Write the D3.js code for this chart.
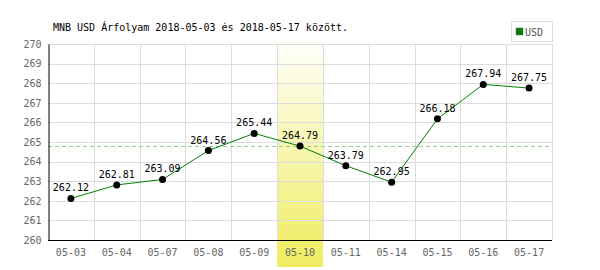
<!DOCTYPE html>
<html>
<head>
<meta charset="utf-8">
<script src="https://cdn.jsdelivr.net/npm/d3@7"></script>
<style>
    body { margin: 0; background: #fff; }
    svg { display: block; }
</style>
</head>
<body>
<div id="chart"></div>
<script>
    // adatok
    var days = ["05-03", "05-04", "05-07", "05-08", "05-09", "05-10", "05-11", "05-14", "05-15", "05-16", "05-17"];
    var rates = [262.12, 262.81, 263.09, 264.56, 265.44, 264.79, 263.79, 262.95, 266.18, 267.94, 267.75];
    var yTicks = [260, 261, 262, 263, 264, 265, 266, 267, 268, 269, 270];
    var avgRate = 264.8;
    var selectedDay = "05-10";
    var title = "MNB USD Árfolyam 2018-05-03 és 2018-05-17 között.";

    var width = 600;
    var height = 270;
    var margin = { top: 44, right: 48, bottom: 30, left: 48 };

    var svg = d3.select("#chart")
        .append("svg")
        .attr("width", width)
        .attr("height", height);

    var x = d3.scaleBand()
        .domain(days)
        .range([margin.left, width - margin.right]);

    var y = d3.scaleLinear()
        .domain([260, 270])
        .range([height - margin.bottom, margin.top]);

    var mono = "'DejaVu Sans Mono', monospace";

    // kiemelt nap
    var grad = svg.append("defs").append("linearGradient")
        .attr("id", "hl")
        .attr("x1", 0).attr("y1", 0).attr("x2", 0).attr("y2", 1);
    grad.append("stop").attr("offset", "0%").attr("stop-color", "#ffffff");
    grad.append("stop").attr("offset", "100%").attr("stop-color", "#efec5e");

    svg.append("rect")
        .attr("x", x(selectedDay))
        .attr("y", 35)
        .attr("width", x.bandwidth())
        .attr("height", 232)
        .attr("fill", "url(#hl)");

    // racsvonalak
    svg.append("g")
        .selectAll("line")
        .data(yTicks)
        .enter()
        .append("line")
        .attr("x1", margin.left)
        .attr("x2", width - margin.right)
        .attr("y1", function (d) { return Math.round(y(d)) + 0.5; })
        .attr("y2", function (d) { return Math.round(y(d)) + 0.5; })
        .style("stroke", "#dcdcdc");

    svg.append("g")
        .selectAll("line")
        .data(days.slice(1).concat(["end"]))
        .enter()
        .append("line")
        .attr("x1", function (d, i) { return Math.round(margin.left + (i + 1) * x.bandwidth()) + 0.5; })
        .attr("x2", function (d, i) { return Math.round(margin.left + (i + 1) * x.bandwidth()) + 0.5; })
        .attr("y1", y(270))
        .attr("y2", y(260))
        .style("stroke", "#dcdcdc");

    // atlag
    svg.append("line")
        .attr("x1", margin.left)
        .attr("x2", width - margin.right)
        .attr("y1", Math.round(y(avgRate)) + 0.5)
        .attr("y2", Math.round(y(avgRate)) + 0.5)
        .style("stroke", "#8fd08f")
        .style("stroke-dasharray", "4,3");

    // tengelyek
    var yAxis = svg.append("g")
        .attr("transform", "translate(" + (margin.left + 0.5) + ",0)")
        .call(d3.axisLeft(y).tickValues(yTicks).tickSize(0).tickPadding(7).tickFormat(d3.format("d")));
    yAxis.select(".domain").style("stroke", "#000");
    yAxis.selectAll("text")
        .style("font-family", mono)
        .style("font-size", "10px")
        .style("fill", "#666");

    var xAxis = svg.append("g")
        .attr("transform", "translate(0," + (y(260) + 0.5) + ")")
        .call(d3.axisBottom(x).tickSize(0).tickPadding(8));
    xAxis.select(".domain").style("stroke", "#000").attr("d", "M" + (margin.left) + ",0H" + (width - margin.right));
    xAxis.selectAll("text")
        .style("font-family", mono)
        .style("font-size", "10px")
        .style("fill", "#666");

    // vonal
    var line = d3.line()
        .x(function (d, i) { return x(days[i]) + x.bandwidth() / 2; })
        .y(function (d) { return y(d); });

    svg.append("path")
        .datum(rates)
        .attr("d", line)
        .attr("fill", "none")
        .style("stroke", "#008000")
        .style("stroke-width", 1);

    svg.append("g")
        .selectAll("circle")
        .data(rates)
        .enter()
        .append("circle")
        .attr("cx", function (d, i) { return x(days[i]) + x.bandwidth() / 2; })
        .attr("cy", function (d) { return y(d); })
        .attr("r", 3.5)
        .style("fill", "#000");

    svg.append("g")
        .selectAll("text")
        .data(rates)
        .enter()
        .append("text")
        .attr("x", function (d, i) { return x(days[i]) + x.bandwidth() / 2; })
        .attr("y", function (d) { return y(d) - 7; })
        .attr("text-anchor", "middle")
        .style("font-family", mono)
        .style("font-size", "10px")
        .style("fill", "#000")
        .text(function (d) { return d.toFixed(2); });

    // cim
    svg.append("text")
        .attr("x", 53)
        .attr("y", 31)
        .style("font-family", mono)
        .style("font-size", "10px")
        .style("fill", "#000")
        .text(title);

    // jelmagyarazat
    var legend = svg.append("g");
    legend.append("rect")
        .attr("x", 511.5).attr("y", 21.5)
        .attr("width", 41).attr("height", 20)
        .attr("fill", "#fff")
        .style("stroke", "#dcdcdc");
    legend.append("rect")
        .attr("x", 516).attr("y", 28)
        .attr("width", 7).attr("height", 7)
        .attr("fill", "#008000")
        .style("stroke", "#666")
        .style("stroke-width", 0.5);
    legend.append("text")
        .attr("x", 525)
        .attr("y", 35.5)
        .style("font-family", mono)
        .style("font-size", "10px")
        .style("fill", "#555")
        .text("USD");
</script>
</body>
</html>
